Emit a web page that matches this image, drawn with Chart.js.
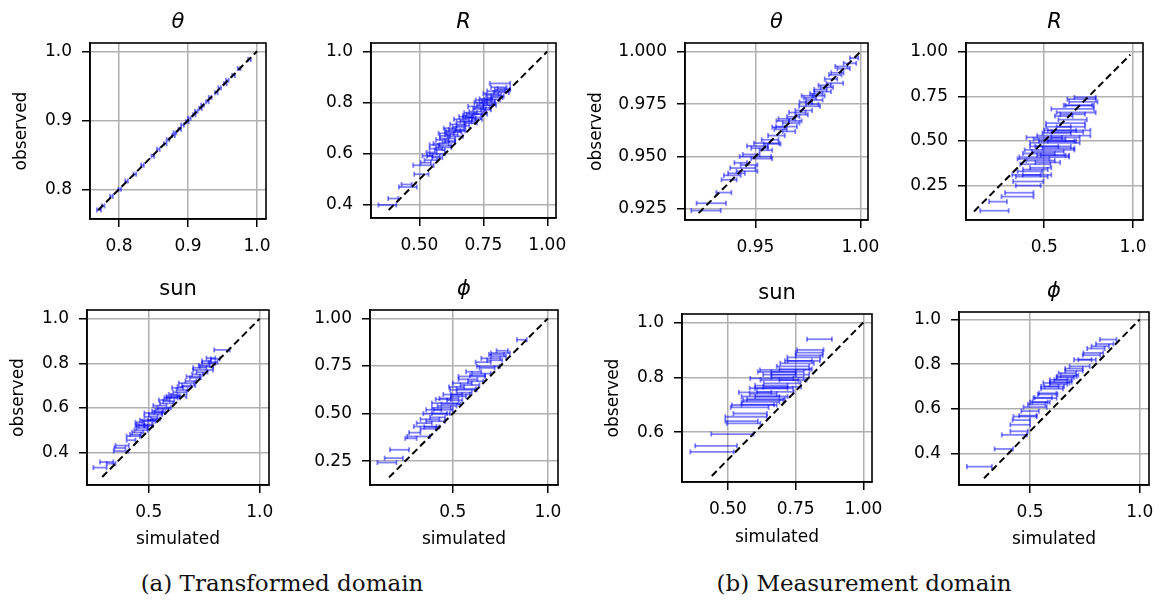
<!DOCTYPE html>
<html><head><meta charset="utf-8">
<script src="https://cdn.jsdelivr.net/npm/chart.js@4.4.0/dist/chart.umd.min.js"></script>
<style>
html,body{margin:0;padding:0;background:#fff;}
body{width:1160px;height:603px;overflow:hidden;position:relative;}
canvas{position:absolute;}
.cap{position:absolute;font-family:'DejaVu Serif',serif;font-size:23px;line-height:26px;color:#111;white-space:nowrap;transform:translateX(-50%);}
</style></head><body>
<div class="cap" style="left:282px;top:570px">(a) Transformed domain</div>
<div class="cap" style="left:864px;top:570px">(b) Measurement domain</div>
<script>
// ---------- Panel 1: theta, transformed domain ----------
const thetaTSim = [0.771,0.777,0.789,0.801,0.811,0.823,0.834,0.849,0.857,0.867,0.871,0.879,0.881,0.888,0.892,0.899,0.902,0.909,0.912,0.918,0.921,0.928,0.932,0.941,0.946,0.954,0.957,0.966,0.974,0.989];
const thetaTObs = [0.770,0.776,0.790,0.800,0.812,0.822,0.835,0.848,0.858,0.866,0.872,0.878,0.882,0.887,0.893,0.898,0.903,0.908,0.913,0.917,0.922,0.927,0.933,0.940,0.947,0.953,0.958,0.965,0.975,0.988];
const thetaTErr = [0.003,0.002,0.002,0.002,0.002,0.002,0.002,0.002,0.002,0.002,0.002,0.002,0.002,0.002,0.002,0.002,0.002,0.002,0.002,0.002,0.002,0.002,0.002,0.002,0.002,0.002,0.002,0.002,0.002,0.002];
const thetaTXLim = [0.758, 1.013], thetaTYLim = [0.757, 1.012];
const thetaTXTicks = [0.8, 0.9, 1.0], thetaTXLabels = ['0.8','0.9','1.0'];
const thetaTYTicks = [0.8, 0.9, 1.0], thetaTYLabels = ['0.8','0.9','1.0'];
const thetaTDiag = [0.77, 1.0];

// ---------- Panel 2: R, transformed domain ----------
const rTSim = [0.375,0.398,0.455,0.450,0.508,0.516,0.525,0.555,0.548,0.570,0.565,0.580,0.560,0.585,0.600,0.590,0.610,0.620,0.605,0.625,0.640,0.620,0.645,0.660,0.650,0.670,0.665,0.690,0.700,0.680,0.710,0.725,0.700,0.725,0.740,0.720,0.745,0.760,0.740,0.765,0.775,0.760,0.785,0.790,0.805,0.800,0.820,0.810,0.830,0.815,
  0.570,0.595,0.615,0.635,0.655,0.675,0.695,0.715,0.735,0.755,0.770,0.795,0.780,0.825,0.600,0.630,0.690,0.750,0.545,0.532];
const rTObs = [0.400,0.425,0.470,0.480,0.520,0.555,0.565,0.590,0.605,0.600,0.620,0.615,0.635,0.640,0.632,0.655,0.660,0.650,0.680,0.675,0.668,0.700,0.695,0.690,0.715,0.710,0.735,0.728,0.720,0.745,0.742,0.735,0.760,0.765,0.755,0.785,0.780,0.772,0.800,0.798,0.790,0.815,0.812,0.830,0.825,0.845,0.840,0.860,0.855,0.875,
  0.585,0.625,0.645,0.685,0.705,0.725,0.740,0.755,0.775,0.790,0.805,0.820,0.835,0.850,0.670,0.690,0.750,0.810,0.575,0.592];
const rTErr = [0.035,0.020,0.035,0.020,0.028,0.040,0.020,0.025,0.020,0.030,0.025,0.020,0.020,0.030,0.025,0.025,0.030,0.020,0.030,0.025,0.030,0.025,0.030,0.020,0.030,0.025,0.030,0.030,0.025,0.025,0.030,0.020,0.025,0.030,0.025,0.030,0.030,0.020,0.025,0.030,0.025,0.025,0.030,0.030,0.025,0.035,0.030,0.030,0.025,0.040,
  0.020,0.030,0.025,0.030,0.025,0.030,0.025,0.030,0.025,0.030,0.025,0.030,0.030,0.030,0.020,0.030,0.020,0.030,0.025,0.020];
const rTXLim = [0.311, 1.034], rTYLim = [0.349, 1.033];
const rTXTicks = [0.5, 0.75, 1.0], rTXLabels = ['0.50','0.75','1.00'];
const rTYTicks = [0.4, 0.6, 0.8, 1.0], rTYLabels = ['0.4','0.6','0.8','1.0'];
const rTDiag = [0.38, 1.0];

// ---------- Panel 3: theta, measurement domain ----------
const thetaMSim = [0.9265,0.929,0.935,0.9375,0.941,0.944,0.946,0.943,0.950,0.948,0.953,0.9553,0.952,0.957,0.955,0.960,0.962,0.9648,0.963,0.967,0.968,0.966,0.970,0.972,0.9758,0.974,0.976,0.978,0.979,0.981,0.980,0.983,0.9878,0.986,0.989,0.992,0.995,0.997,
  0.958,0.961,0.965,0.969,0.973,0.977,0.975,0.982,0.984,0.947,0.939,0.951,0.988,0.991];
const thetaMObs = [0.9242,0.9277,0.9328,0.9389,0.942,0.9445,0.943,0.947,0.950,0.951,0.949,0.9564,0.954,0.958,0.953,0.960,0.963,0.9643,0.967,0.966,0.969,0.962,0.971,0.970,0.974,0.976,0.978,0.977,0.980,0.982,0.979,0.984,0.985,0.987,0.990,0.992,0.9945,0.997,
  0.956,0.964,0.968,0.967,0.972,0.975,0.979,0.981,0.983,0.946,0.941,0.955,0.989,0.993];
const thetaMErr = [0.007,0.007,0.0036,0.0036,0.004,0.006,0.005,0.003,0.0075,0.004,0.005,0.006,0.004,0.004,0.003,0.004,0.003,0.005,0.003,0.004,0.003,0.003,0.004,0.003,0.005,0.003,0.003,0.004,0.003,0.003,0.003,0.003,0.004,0.003,0.003,0.003,0.003,0.002,
  0.004,0.003,0.004,0.003,0.004,0.003,0.003,0.004,0.003,0.004,0.004,0.005,0.003,0.003];
const thetaMXLim = [0.9165, 1.0036], thetaMYLim = [0.9197, 1.0042];
const thetaMXTicks = [0.95, 1.0], thetaMXLabels = ['0.95','1.00'];
const thetaMYTicks = [0.925, 0.95, 0.975, 1.0], thetaMYLabels = ['0.925','0.950','0.975','1.000'];
const thetaMDiag = [0.923, 1.0];

// ---------- Panel 4: R, measurement domain ----------
const rMSim = [0.22,0.24,0.35,0.36,0.41,0.41,0.43,0.46,0.42,0.48,0.45,0.52,0.50,0.47,0.56,0.53,0.50,0.58,0.56,0.53,0.60,0.61,0.57,0.63,0.64,0.58,0.62,0.66,0.61,0.68,0.66,0.70,0.72,0.71,0.73,
  0.44,0.52,0.55,0.50,0.57,0.45,0.40,0.59,0.62,0.65,0.54,0.48,0.66,0.69];
const rMObs = [0.109,0.16,0.188,0.21,0.25,0.273,0.30,0.31,0.33,0.35,0.37,0.38,0.41,0.43,0.42,0.45,0.47,0.46,0.49,0.51,0.50,0.53,0.545,0.55,0.56,0.58,0.60,0.62,0.64,0.66,0.68,0.70,0.72,0.735,0.745,
  0.40,0.44,0.47,0.52,0.50,0.34,0.31,0.56,0.52,0.58,0.42,0.39,0.65,0.70];
const rMErr = [0.08,0.05,0.09,0.08,0.07,0.085,0.09,0.08,0.07,0.06,0.085,0.07,0.14,0.09,0.08,0.14,0.08,0.09,0.14,0.09,0.08,0.15,0.08,0.09,0.12,0.07,0.11,0.08,0.05,0.11,0.12,0.08,0.08,0.08,0.06,
  0.09,0.09,0.10,0.10,0.10,0.07,0.08,0.09,0.08,0.08,0.08,0.08,0.07,0.08];
const rMXLim = [0.06, 1.056], rMYLim = [0.057, 1.05];
const rMXTicks = [0.5, 1.0], rMXLabels = ['0.5','1.0'];
const rMYTicks = [0.25, 0.5, 0.75, 1.0], rMYLabels = ['0.25','0.50','0.75','1.00'];
const rMDiag = [0.105, 0.985];

// ---------- Panel 5: sun, transformed domain ----------
const sunTSim = [0.28,0.31,0.33,0.375,0.37,0.38,0.42,0.43,0.45,0.47,0.48,0.46,0.50,0.49,0.51,0.53,0.52,0.54,0.56,0.55,0.58,0.57,0.60,0.625,0.61,0.64,0.63,0.66,0.67,0.69,0.70,0.72,0.745,0.73,0.75,0.77,0.76,0.78,0.80,0.83,
  0.44,0.465,0.475,0.50,0.515,0.53,0.55,0.57,0.59,0.61,0.62,0.65,0.68,0.71,0.74,0.76,0.79,0.46];
const sunTObs = [0.332,0.357,0.35,0.406,0.42,0.431,0.455,0.473,0.49,0.51,0.525,0.535,0.52,0.545,0.56,0.55,0.577,0.585,0.595,0.61,0.62,0.635,0.645,0.651,0.66,0.67,0.69,0.695,0.711,0.72,0.74,0.75,0.77,0.78,0.79,0.80,0.81,0.823,0.82,0.86,
  0.48,0.50,0.52,0.54,0.545,0.57,0.58,0.60,0.63,0.645,0.655,0.68,0.70,0.735,0.76,0.785,0.805,0.52];
const sunTErr = [0.03,0.03,0.02,0.033,0.025,0.03,0.02,0.03,0.025,0.025,0.035,0.02,0.02,0.03,0.03,0.02,0.04,0.025,0.03,0.03,0.03,0.025,0.03,0.045,0.02,0.03,0.025,0.03,0.035,0.025,0.03,0.025,0.045,0.03,0.025,0.03,0.02,0.02,0.02,0.035,
  0.025,0.03,0.02,0.03,0.02,0.03,0.025,0.03,0.025,0.03,0.02,0.025,0.03,0.025,0.025,0.03,0.02,0.02];
const sunTXLim = [0.2215, 1.042], sunTYLim = [0.254, 1.039];
const sunTXTicks = [0.5, 1.0], sunTXLabels = ['0.5','1.0'];
const sunTYTicks = [0.4, 0.6, 0.8, 1.0], sunTYLabels = ['0.4','0.6','0.8','1.0'];
const sunTDiag = [0.29, 1.0];

// ---------- Panel 6: phi, transformed domain ----------
const phiTSim = [0.154,0.19,0.22,0.28,0.32,0.30,0.355,0.35,0.38,0.415,0.40,0.44,0.46,0.45,0.48,0.50,0.556,0.52,0.55,0.58,0.60,0.61,0.687,0.66,0.70,0.75,0.73,0.76,0.863,0.42,0.47,0.53,0.57,0.63,0.39,
  0.37,0.41,0.43,0.45,0.49,0.51,0.54,0.56,0.59,0.62,0.65,0.68,0.72,0.74];
const phiTObs = [0.243,0.266,0.31,0.37,0.38,0.40,0.432,0.45,0.47,0.50,0.52,0.53,0.555,0.575,0.58,0.60,0.625,0.64,0.66,0.68,0.695,0.72,0.748,0.77,0.79,0.818,0.81,0.83,0.888,0.48,0.54,0.59,0.63,0.70,0.43,
  0.42,0.46,0.50,0.52,0.55,0.57,0.60,0.61,0.65,0.67,0.71,0.74,0.78,0.80];
const phiTErr = [0.05,0.048,0.05,0.03,0.06,0.03,0.06,0.04,0.05,0.07,0.04,0.05,0.07,0.04,0.05,0.05,0.07,0.04,0.05,0.05,0.07,0.04,0.06,0.04,0.05,0.05,0.04,0.03,0.026,0.04,0.05,0.04,0.05,0.04,0.04,
  0.04,0.05,0.04,0.05,0.05,0.04,0.05,0.04,0.05,0.04,0.05,0.04,0.04,0.04];
const phiTXLim = [0.065, 1.053], phiTYLim = [0.125, 1.044];
const phiTXTicks = [0.5, 1.0], phiTXLabels = ['0.5','1.0'];
const phiTYTicks = [0.25, 0.5, 0.75, 1.0], phiTYLabels = ['0.25','0.50','0.75','1.00'];
const phiTDiag = [0.165, 1.0];

// ---------- Panel 7: sun, measurement domain ----------
const sunMSim = [0.441,0.456,0.516,0.558,0.567,0.582,0.597,0.62,0.63,0.66,0.675,0.63,0.70,0.70,0.662,0.72,0.71,0.74,0.755,0.78,0.80,0.804,0.838,0.68,0.60,0.74,0.65,0.69,0.76,0.61,
  0.58,0.64,0.67,0.69,0.72,0.75,0.78,0.80,0.73,0.66,0.55,0.62];
const sunMObs = [0.528,0.55,0.593,0.632,0.656,0.668,0.699,0.71,0.717,0.73,0.747,0.74,0.765,0.778,0.796,0.80,0.827,0.84,0.851,0.873,0.89,0.90,0.939,0.82,0.745,0.79,0.76,0.81,0.86,0.70,
  0.69,0.72,0.76,0.79,0.82,0.83,0.86,0.88,0.81,0.77,0.64,0.73];
const sunMErr = [0.08,0.077,0.078,0.062,0.077,0.062,0.083,0.07,0.074,0.06,0.068,0.05,0.07,0.068,0.08,0.06,0.092,0.06,0.062,0.061,0.05,0.049,0.046,0.07,0.06,0.05,0.07,0.06,0.05,0.06,
  0.07,0.07,0.07,0.07,0.06,0.06,0.06,0.05,0.07,0.06,0.06,0.07];
const sunMXLim = [0.330, 1.032], sunMYLim = [0.418, 1.031];
const sunMXTicks = [0.5, 0.75, 1.0], sunMXLabels = ['0.50','0.75','1.00'];
const sunMYTicks = [0.6, 0.8, 1.0], sunMYLabels = ['0.6','0.8','1.0'];
const sunMDiag = [0.44, 1.0];

// ---------- Panel 8: phi, measurement domain ----------
const phiMSim = [0.269,0.38,0.428,0.45,0.455,0.477,0.50,0.523,0.568,0.55,0.58,0.60,0.62,0.63,0.667,0.67,0.726,0.74,0.788,0.80,0.856,0.84,0.59,0.64,0.53,0.70,
  0.54,0.56,0.58,0.61,0.63,0.65,0.66,0.68,0.70,0.76,0.78,0.82,0.49,0.46];
const phiMObs = [0.342,0.421,0.484,0.50,0.529,0.566,0.59,0.608,0.648,0.63,0.665,0.69,0.716,0.73,0.745,0.76,0.79,0.82,0.85,0.87,0.91,0.89,0.70,0.72,0.62,0.77,
  0.63,0.65,0.67,0.70,0.71,0.73,0.74,0.75,0.78,0.82,0.84,0.88,0.57,0.55];
const phiMErr = [0.057,0.042,0.057,0.04,0.045,0.053,0.04,0.053,0.053,0.04,0.045,0.05,0.06,0.04,0.045,0.04,0.046,0.04,0.045,0.04,0.038,0.04,0.04,0.05,0.04,0.04,
  0.04,0.04,0.04,0.045,0.04,0.04,0.04,0.04,0.04,0.04,0.04,0.04,0.04,0.04];
const phiMXLim = [0.176, 1.042], phiMYLim = [0.26, 1.033];
const phiMXTicks = [0.5, 1.0], phiMXLabels = ['0.5','1.0'];
const phiMYTicks = [0.4, 0.6, 0.8, 1.0], phiMYLabels = ['0.4','0.6','0.8','1.0'];
const phiMDiag = [0.29, 1.0];

const titles = ['θ','R','θ','R','sun','ϕ','sun','ϕ'];
const xAxisLabel = 'simulated', yAxisLabel = 'observed';

// ---------- layout (positions only) ----------
const panels = [
  {box:[90,43,266,219],  padL:88,  title:titles[0], italic:true,  ylabX:21.7, xlabY:null, sim:thetaTSim, obs:thetaTObs, err:thetaTErr, xlim:thetaTXLim, ylim:thetaTYLim, xt:thetaTXTicks, xl:thetaTXLabels, yt:thetaTYTicks, yl:thetaTYLabels, diag:thetaTDiag},
  {box:[371,43,556,218], padL:75,  title:titles[1], italic:true,  ylabX:null, xlabY:null, sim:rTSim, obs:rTObs, err:rTErr, xlim:rTXLim, ylim:rTYLim, xt:rTXTicks, xl:rTXLabels, yt:rTYTicks, yl:rTYLabels, diag:rTDiag},
  {box:[685,43,868,220], padL:100, title:titles[2], italic:true,  ylabX:597,  xlabY:null, sim:thetaMSim, obs:thetaMObs, err:thetaMErr, xlim:thetaMXLim, ylim:thetaMYLim, xt:thetaMXTicks, xl:thetaMXLabels, yt:thetaMYTicks, yl:thetaMYLabels, diag:thetaMDiag},
  {box:[966,43,1143,220],padL:75,  title:titles[3], italic:true,  ylabX:null, xlabY:null, sim:rMSim, obs:rMObs, err:rMErr, xlim:rMXLim, ylim:rMYLim, xt:rMXTicks, xl:rMXLabels, yt:rMYTicks, yl:rMYLabels, diag:rMDiag},
  {box:[87,310,269,485], padL:85,  title:titles[4], italic:false, ylabX:18.3, xlabY:540, sim:sunTSim, obs:sunTObs, err:sunTErr, xlim:sunTXLim, ylim:sunTYLim, xt:sunTXTicks, xl:sunTXLabels, yt:sunTYTicks, yl:sunTYLabels, diag:sunTDiag},
  {box:[370,310,558,485],padL:75,  title:titles[5], italic:true,  ylabX:null, xlabY:540, sim:phiTSim, obs:phiTObs, err:phiTErr, xlim:phiTXLim, ylim:phiTYLim, xt:phiTXTicks, xl:phiTXLabels, yt:phiTYTicks, yl:phiTYLabels, diag:phiTDiag},
  {box:[682,314,872,482],padL:85,  title:titles[6], italic:false, ylabX:613.3, xlabY:537.3, sim:sunMSim, obs:sunMObs, err:sunMErr, xlim:sunMXLim, ylim:sunMYLim, xt:sunMXTicks, xl:sunMXLabels, yt:sunMYTicks, yl:sunMYLabels, diag:sunMDiag},
  {box:[959,312,1149,485],padL:75, title:titles[7], italic:true,  ylabX:null, xlabY:540, sim:phiMSim, obs:phiMObs, err:phiMErr, xlim:phiMXLim, ylim:phiMYLim, xt:phiMXTicks, xl:phiMXLabels, yt:phiMYTicks, yl:phiMYLabels, diag:phiMDiag}
];

const FONT = 'DejaVu Sans';
const BAR_COLOR = 'rgba(0,0,255,0.5)';
const boxPlugin = {
  id: 'boxFrame',
  afterDatasetsDraw(chart) {
    const {ctx, chartArea: a} = chart;
    ctx.save();
    ctx.strokeStyle = '#000';
    ctx.lineWidth = 1.6;
    ctx.strokeRect(a.left, a.top, a.right - a.left, a.bottom - a.top);
    ctx.restore();
  }
};

panels.forEach(p => {
  const [l, t, r, b] = p.box;
  const padL = p.padL, padT = 45, padR = 25, padB = p.xlabY ? 75 : 40;
  const cw = padL + (r - l) + padR, ch = padT + (b - t) + padB;
  const canvas = document.createElement('canvas');
  canvas.width = cw; canvas.height = ch;
  canvas.style.left = (l - padL) + 'px';
  canvas.style.top = (t - padT) + 'px';
  canvas.style.width = cw + 'px'; canvas.style.height = ch + 'px';
  document.body.appendChild(canvas);

  const datasets = [{
    data: [{x: p.diag[0], y: p.diag[0]}, {x: p.diag[1], y: p.diag[1]}],
    showLine: true, borderColor: '#000', borderWidth: 2, borderDash: [7, 4],
    pointRadius: 0, order: 0
  }];
  for (let i = 0; i < p.sim.length; i++) {
    datasets.push({
      data: [{x: p.sim[i] - p.err[i], y: p.obs[i]}, {x: p.sim[i] + p.err[i], y: p.obs[i]}],
      showLine: true, borderColor: BAR_COLOR, borderWidth: 1.8,
      pointStyle: 'line', rotation: 90, pointRadius: 2.5,
      pointBorderColor: BAR_COLOR, pointBackgroundColor: BAR_COLOR, pointBorderWidth: 1.8,
      order: 1
    });
  }
  const ytPad = p.ylabX ? (p.ylabX - (l - padL) - 10.2) : 0;
  const xtPad = p.xlabY ? (padB - (p.xlabY - b) - 10.2) : 0;
  const tickFont = {family: FONT, size: 17};
  const grid = {color: '#b0b0b0', lineWidth: 1.5, tickColor: '#000', tickLength: 8, tickWidth: 1.5, drawTicks: true};
  const border = {display: true, color: '#000', width: 1.6};

  new Chart(canvas, {
    type: 'scatter',
    data: {datasets},
    plugins: [boxPlugin],
    options: {
      responsive: false, animation: false, devicePixelRatio: 1, events: [],
      layout: {padding: {left: 0, right: padR, top: 0, bottom: 0}},
      plugins: {
        legend: {display: false}, tooltip: {enabled: false},
        title: {display: true, fullSize: false, text: p.title, color: '#000',
          font: {family: FONT, size: 21, style: p.italic ? 'italic' : 'normal', weight: 'normal'},
          padding: {top: 11.9, bottom: 7.9}}
      },
      scales: {
        x: {
          type: 'linear', min: p.xlim[0], max: p.xlim[1],
          afterFit: s => { s.height = padB; },
          afterBuildTicks: s => { s.ticks = p.xt.map(v => ({value: v})); },
          ticks: {callback: (v, i) => p.xl[i], color: '#000', font: tickFont, padding: 9, autoSkip: false, maxRotation: 0, minRotation: 0},
          grid, border,
          title: {display: !!p.xlabY, text: xAxisLabel, color: '#000', font: tickFont, padding: {top: 0, bottom: xtPad}}
        },
        y: {
          type: 'linear', min: p.ylim[0], max: p.ylim[1],
          afterFit: s => { s.width = padL; },
          afterBuildTicks: s => { s.ticks = p.yt.map(v => ({value: v})); },
          ticks: {callback: (v, i) => p.yl[i], color: '#000', font: tickFont, padding: 10, autoSkip: false},
          grid, border,
          title: {display: !!p.ylabX, text: yAxisLabel, color: '#000', font: tickFont, padding: {top: ytPad, bottom: 0}}
        }
      }
    }
  });
});
</script>
</body></html>
